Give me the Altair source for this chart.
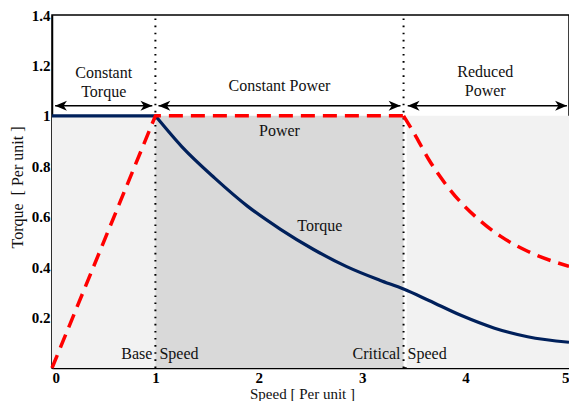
import altair as alt
import pandas as pd

# ---- data ----
torque_flat_speed = [0, 1]
torque_flat_value = [1, 1]
torque_speed = [1.0, 1.255, 1.574, 1.893, 2.21, 2.53, 2.85, 3.17, 3.4, 3.645, 3.96, 4.28, 4.6, 5.0]
torque_value = [1.0, 0.878, 0.753, 0.641, 0.550, 0.470, 0.402, 0.348, 0.313, 0.268, 0.208, 0.158, 0.124, 0.102]

power_lin_speed = [0, 1, 3.4]
power_lin_value = [0, 1, 1]
power_speed = [3.4, 3.52, 3.645, 3.8, 3.96, 4.15, 4.34, 4.6, 5.0]
power_value = [1.0, 0.918, 0.826, 0.733, 0.654, 0.581, 0.522, 0.463, 0.403]

region_start = [0, 1, 3.43]
region_end = [1, 3.4, 5]
region_fill = ["#f2f2f2", "#d9d9d9", "#f2f2f2"]
region_top = 1.0

boundaries = [1, 3.4]

arrow_start = [0.03, 1.03, 3.44]
arrow_end = [0.97, 3.37, 4.98]
arrow_level = 1.04

region_labels = ["Constant\nTorque", "Constant Power", "Reduced\nPower"]
region_label_x = [0.5, 2.2, 4.19]
region_label_y = [1.170, 1.119, 1.174]

curve_labels = ["Power", "Torque"]
curve_label_x = [2.2, 2.59]
curve_label_y = [0.94, 0.564]

speed_left_labels = ["Base", "Critical"]
speed_right_labels = ["Speed", "Speed"]
speed_label_y = 0.057

x_ticks = [0, 1, 2, 3, 4, 5]
y_ticks = [0.2, 0.4, 0.6, 0.8, 1.0, 1.2, 1.4]

FONT = "Liberation Serif"
NAVY = "#00205b"
RED = "#ff0000"

W, H = 517, 353

xs = alt.Scale(domain=[0, 5], nice=False, zero=False)
ys = alt.Scale(domain=[0, 1.4], nice=False)

xaxis = alt.Axis(values=x_ticks, format="d", title="Speed [ Per unit ]", ticks=False,
                 grid=False, labelFont=FONT, labelFontWeight="bold", labelFontSize=15,
                 labelColor="black", labelPadding=2, domainColor="black", domainWidth=1.5,
                 titleFont=FONT, titleFontWeight="normal", titleFontSize=15, titleColor="#111",
                 titleX=250, titleY=30, titleBaseline="alphabetic", titleAlign="center")
yaxis = alt.Axis(values=y_ticks, labelExpr="datum.value == 1 ? '1' : format(datum.value, '.1f')",
                 title="Torque \u00a0[ Per unit ]", ticks=False, grid=False, labelFont=FONT,
                 labelFontWeight="bold", labelFontSize=15, labelColor="black", labelPadding=2,
                 domainColor="black", domainWidth=1.5, titleFont=FONT, titleFontWeight="normal",
                 titleFontSize=16, titleColor="#111", titleX=-27, titleY=172, titleAngle=-90,
                 titleAlign="center", titleBaseline="bottom")

regions = pd.DataFrame({"x0": region_start, "x1": region_end, "fill": region_fill,
                        "y0": [0] * 3, "y1": [region_top] * 3})
bg = alt.Chart(regions).mark_rect(strokeWidth=0).encode(
    x=alt.X("x0:Q", scale=xs, axis=xaxis), x2="x1:Q",
    y=alt.Y("y0:Q", scale=ys, axis=yaxis), y2="y1:Q",
    color=alt.Color("fill:N", scale=None))

bnd = pd.DataFrame({"x": boundaries, "y0": [0] * 2, "y1": [1.4] * 2})
dots = alt.Chart(bnd).mark_rule(color="black", strokeWidth=2, strokeDash=[1.6, 5.5]).encode(
    x=alt.X("x:Q", scale=xs), y=alt.Y("y0:Q", scale=ys), y2="y1:Q")

tflat = alt.Chart(pd.DataFrame({"s": torque_flat_speed, "v": torque_flat_value})).mark_line(
    color=NAVY, strokeWidth=3.2).encode(x=alt.X("s:Q", scale=xs), y=alt.Y("v:Q", scale=ys))
tcurve = alt.Chart(pd.DataFrame({"s": torque_speed, "v": torque_value})).mark_line(
    color=NAVY, strokeWidth=3.2, interpolate="monotone").encode(
    x=alt.X("s:Q", scale=xs), y=alt.Y("v:Q", scale=ys))

plin = alt.Chart(pd.DataFrame({"s": power_lin_speed, "v": power_lin_value})).mark_line(
    color=RED, strokeWidth=3.5, strokeDash=[14, 8], strokeJoin="round").encode(
    x=alt.X("s:Q", scale=xs), y=alt.Y("v:Q", scale=ys))
pcurve = alt.Chart(pd.DataFrame({"s": power_speed, "v": power_value})).mark_line(
    color=RED, strokeWidth=3.5, strokeDash=[14, 8], interpolate="monotone").encode(
    x=alt.X("s:Q", scale=xs), y=alt.Y("v:Q", scale=ys))

arr = pd.DataFrame({"a": arrow_start, "b": arrow_end, "y": [arrow_level] * 3})
arrow_line = alt.Chart(arr).mark_rule(color="black", strokeWidth=1.6).encode(
    x=alt.X("a:Q", scale=xs), x2="b:Q", y=alt.Y("y:Q", scale=ys))
head_left = alt.Chart(arr).mark_point(
    shape="M0,0L1,-0.42L0.72,0L1,0.42Z", filled=True, color="black", opacity=1, size=560,
    strokeWidth=0).encode(x=alt.X("a:Q", scale=xs), y=alt.Y("y:Q", scale=ys))
head_right = alt.Chart(arr).mark_point(
    shape="M0,0L-1,-0.42L-0.72,0L-1,0.42Z", filled=True, color="black", opacity=1, size=560,
    strokeWidth=0).encode(x=alt.X("b:Q", scale=xs), y=alt.Y("y:Q", scale=ys))

rl = pd.DataFrame({"t": region_labels, "x": region_label_x, "y": region_label_y})
rtext = alt.Chart(rl).mark_text(font=FONT, fontSize=16, color="#111", lineBreak="\n",
                                lineHeight=19, baseline="middle").encode(
    x=alt.X("x:Q", scale=xs), y=alt.Y("y:Q", scale=ys), text="t:N")

cl = pd.DataFrame({"t": curve_labels, "x": curve_label_x, "y": curve_label_y})
ctext = alt.Chart(cl).mark_text(font=FONT, fontSize=16, color="#111", baseline="middle").encode(
    x=alt.X("x:Q", scale=xs), y=alt.Y("y:Q", scale=ys), text="t:N")

sl = pd.DataFrame({"l": speed_left_labels, "r": speed_right_labels, "x": boundaries,
                   "y": [speed_label_y] * 2})
sleft = alt.Chart(sl).mark_text(font=FONT, fontSize=16, color="#111", align="right",
                                baseline="middle", dx=-3).encode(
    x=alt.X("x:Q", scale=xs), y=alt.Y("y:Q", scale=ys), text="l:N")
sright = alt.Chart(sl).mark_text(font=FONT, fontSize=16, color="#111", align="left",
                                 baseline="middle", dx=4).encode(
    x=alt.X("x:Q", scale=xs), y=alt.Y("y:Q", scale=ys), text="r:N")

chart = alt.layer(bg, dots, tflat, tcurve, plin, pcurve, arrow_line, head_left, head_right,
                  rtext, ctext, sleft, sright).properties(
    width=W, height=H, autosize="none",
    padding={"left": 44, "top": 7, "right": 0, "bottom": 33},
    background="white",
).configure_view(stroke="black", strokeWidth=1.5)

chart.save("out.html", embed_options={"renderer": "svg", "actions": False})
